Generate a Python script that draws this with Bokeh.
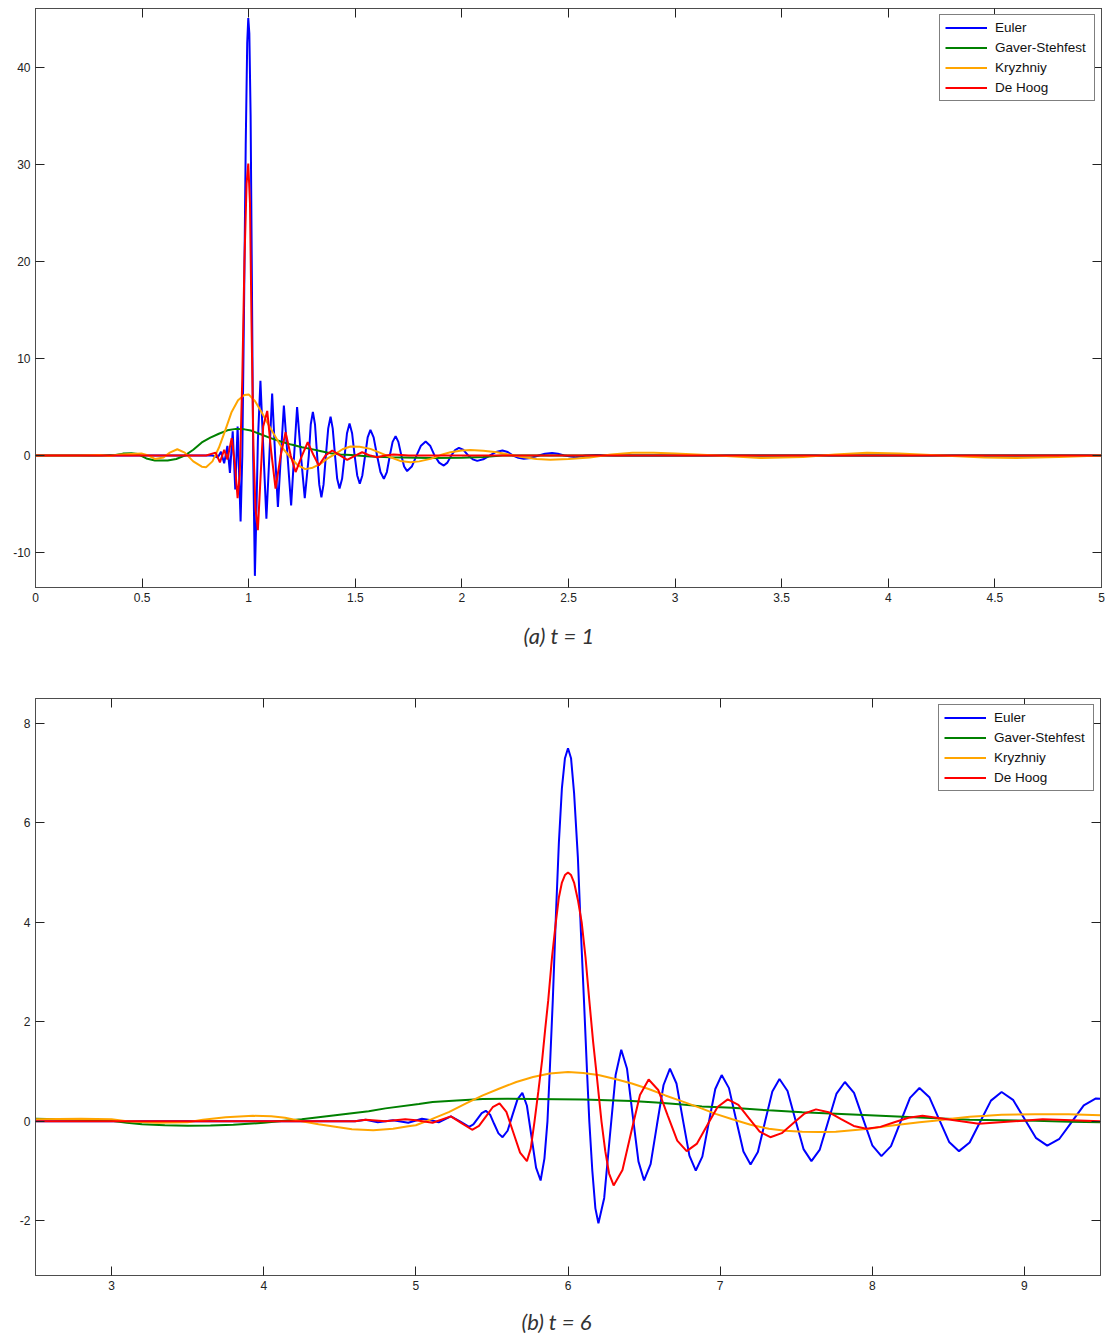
from bokeh.plotting import figure
from bokeh.models import Range1d, FixedTicker, LinearAxis, Title
from bokeh.layouts import column
from bokeh.embed import file_html
from bokeh.resources import INLINE

# ---------------- data: panel (a) t = 1 ----------------
a_xticks = [0, 0.5, 1, 1.5, 2, 2.5, 3, 3.5, 4, 4.5, 5]
a_xlabels = ["0", "0.5", "1", "1.5", "2", "2.5", "3", "3.5", "4", "4.5", "5"]
a_yticks = [-10, 0, 10, 20, 30, 40]
a_ylabels = ["-10", "0", "10", "20", "30", "40"]

a_euler = [(0.0, 0), (0.83, 0), (0.855, -0.2), (0.87, 0.4), (0.885, -0.8), (0.90, 1.0),
           (0.912, -1.8), (0.925, 2.5), (0.937, -3.5), (0.948, 3.0), (0.962, -6.8),
           (0.970, 0), (0.978, 15), (0.986, 32), (0.993, 42.5), (0.998, 45.1), (1.003, 43.5),
           (1.009, 35), (1.015, 18), (1.021, 0), (1.029, -12.4), (1.036, -6), (1.043, 1.5),
           (1.055, 7.7), (1.069, 0.5), (1.083, -6.5), (1.097, 0), (1.110, 6.4), (1.124, 0),
           (1.137, -5.3), (1.151, 0), (1.165, 5.15), (1.182, 0), (1.199, -5.15), (1.213, 0),
           (1.227, 5.0), (1.245, 0), (1.263, -4.4), (1.282, 0), (1.291, 3.2), (1.301, 4.5),
           (1.311, 3.2), (1.321, 0), (1.331, -3.0), (1.341, -4.3), (1.351, -3.0), (1.362, 0),
           (1.373, 2.8), (1.384, 4.0), (1.394, 2.8), (1.405, 0), (1.415, -2.4), (1.426, -3.4),
           (1.438, -2.4), (1.45, 0), (1.461, 2.3), (1.473, 3.3), (1.485, 2.3), (1.497, 0),
           (1.509, -2.05), (1.521, -2.9), (1.533, -2.05), (1.546, 0), (1.558, 1.87),
           (1.571, 2.65), (1.586, 1.87), (1.602, 0), (1.618, -1.7), (1.634, -2.4),
           (1.648, -1.7), (1.662, 0), (1.675, 1.41), (1.689, 2.0), (1.702, 1.41), (1.716, 0),
           (1.729, -1.13), (1.743, -1.6), (1.765, -1.13), (1.787, 0), (1.808, 1.02),
           (1.83, 1.45), (1.851, 1.02), (1.872, 0), (1.893, -0.73), (1.915, -1.03),
           (1.932, -0.73), (1.95, 0), (1.968, 0.57), (1.986, 0.8), (2.008, 0.57), (2.03, 0),
           (2.051, -0.39), (2.072, -0.55), (2.10, -0.39), (2.13, 0), (2.16, 0.37), (2.19, 0.52),
           (2.215, 0.37), (2.24, 0), (2.265, -0.24), (2.29, -0.34), (2.325, -0.24), (2.36, 0),
           (2.39, 0.19), (2.423, 0.27), (2.45, 0.19), (2.48, 0), (2.533, -0.17), (2.58, 0),
           (2.63, 0.07), (2.72, 0), (5.0, 0)]

a_gaver = [(0, 0), (0.30, 0), (0.375, 0.05), (0.41, 0.2), (0.45, 0.25), (0.48, 0.15), (0.52, -0.3),
           (0.56, -0.5), (0.62, -0.5), (0.66, -0.35), (0.70, 0), (0.74, 0.6), (0.78, 1.35),
           (0.82, 1.85), (0.86, 2.25), (0.90, 2.6), (0.94, 2.75), (0.98, 2.7), (1.01, 2.58),
           (1.05, 2.25), (1.10, 1.82), (1.15, 1.45), (1.20, 1.13), (1.25, 0.85), (1.29, 0.69),
           (1.34, 0.45), (1.384, 0.24), (1.43, 0.12), (1.48, 0.05), (1.57, -0.1), (1.665, -0.17),
           (1.85, -0.24), (2.0, -0.22), (2.1, -0.15), (2.19, 0), (5.0, 0)]

a_kryz = [(0, 0), (0.2, 0), (0.3, 0.05), (0.35, -0.05), (0.4, 0.1), (0.45, 0.15), (0.5, 0.2),
          (0.53, 0), (0.56, -0.35), (0.6, -0.2), (0.63, 0.3), (0.665, 0.65), (0.70, 0.3),
          (0.74, -0.6), (0.78, -1.15), (0.80, -1.2), (0.83, -0.6), (0.86, 0.8), (0.89, 2.6),
          (0.92, 4.5), (0.95, 5.7), (0.98, 6.25), (1.0, 6.3), (1.03, 5.6), (1.06, 4.5),
          (1.10, 2.9), (1.15, 1.0), (1.196, -0.2), (1.23, -1.0), (1.266, -1.4), (1.30, -1.25),
          (1.337, -0.85), (1.37, -0.3), (1.407, 0.17), (1.44, 0.65), (1.477, 0.93), (1.52, 0.9),
          (1.571, 0.69), (1.62, 0.25), (1.665, -0.17), (1.71, -0.55), (1.759, -0.69), (1.80, -0.6),
          (1.853, -0.34), (1.90, 0.05), (1.946, 0.34), (2.0, 0.52), (2.04, 0.58), (2.10, 0.5),
          (2.165, 0.34), (2.23, 0.05), (2.29, -0.17), (2.35, -0.35), (2.415, -0.44), (2.5, -0.35),
          (2.6, -0.2), (2.7, 0.1), (2.8, 0.3), (2.9, 0.3), (3.0, 0.2), (3.2, 0), (3.4, -0.25),
          (3.6, -0.15), (3.75, 0.1), (3.9, 0.3), (4.05, 0.2), (4.25, 0), (4.45, -0.2), (4.6, -0.25),
          (4.8, -0.15), (5.0, 0)]

a_hoog = [(0, 0), (0.80, 0), (0.845, 0.3), (0.865, -0.7), (0.885, 0.6), (0.90, -0.4), (0.92, 1.8),
          (0.935, -0.8), (0.948, -4.4), (0.958, -2.0), (0.97, 8), (0.98, 20), (0.99, 28),
          (0.998, 30.1), (1.006, 26), (1.013, 14), (1.022, 1), (1.032, -5.5), (1.043, -7.7),
          (1.055, -2.5), (1.068, 3.0), (1.087, 4.6), (1.105, 0.5), (1.126, -3.4), (1.15, 0),
          (1.173, 2.4), (1.197, 0), (1.22, -1.7), (1.25, 0), (1.277, 1.37), (1.305, 0),
          (1.329, -1.03), (1.36, 0), (1.392, 0.52), (1.43, 0), (1.462, -0.45), (1.50, 0),
          (1.532, 0.34), (1.57, 0), (1.602, -0.17), (1.64, 0), (1.68, 0.1), (1.75, 0), (5.0, 0)]

# ---------------- data: panel (b) t = 6 ----------------
b_xticks = [3, 4, 5, 6, 7, 8, 9]
b_xlabels = ["3", "4", "5", "6", "7", "8", "9"]
b_yticks = [-2, 0, 2, 4, 6, 8]
b_ylabels = ["-2", "0", "2", "4", "6", "8"]

b_euler = [(2.5, 0), (4.6, 0), (4.67, 0.03), (4.75, -0.02), (4.85, 0.02), (4.95, -0.03), (5.04, 0.05),
           (5.1, 0.02), (5.15, -0.02), (5.23, 0.1), (5.29, 0.0), (5.35, -0.11), (5.378, -0.063),
           (5.405, 0.05), (5.433, 0.163), (5.46, 0.21), (5.488, 0.133), (5.515, -0.055),
           (5.543, -0.243), (5.57, -0.32), (5.603, -0.19), (5.635, 0.125), (5.668, 0.44),
           (5.70, 0.57), (5.73, 0.313), (5.76, -0.31), (5.79, -0.933), (5.82, -1.19),
           (5.845, -0.75), (5.865, 0), (5.88, 1.0), (5.90, 2.43), (5.92, 4.1), (5.94, 5.6),
           (5.96, 6.7), (5.98, 7.3), (6.0, 7.5), (6.02, 7.3), (6.04, 6.6), (6.065, 5.3),
           (6.085, 3.8), (6.105, 2.43), (6.125, 1.0), (6.14, 0), (6.16, -1.0), (6.18, -1.75),
           (6.2, -2.05), (6.238, -1.54), (6.275, -0.305), (6.313, 0.93), (6.35, 1.44),
           (6.388, 1.056), (6.425, 0.125), (6.463, -0.806), (6.50, -1.19), (6.543, -0.861),
           (6.585, -0.065), (6.628, 0.73), (6.67, 1.06), (6.713, 0.76), (6.755, 0.035),
           (6.798, -0.69), (6.84, -0.99), (6.883, -0.71), (6.925, -0.03), (6.968, 0.65),
           (7.01, 0.93), (7.058, 0.667), (7.105, 0.03), (7.153, -0.607), (7.20, -0.87),
           (7.248, -0.619), (7.295, -0.01), (7.343, 0.599), (7.39, 0.85), (7.443, 0.609),
           (7.495, 0.025), (7.548, -0.559), (7.60, -0.80), (7.655, -0.568), (7.71, -0.005),
           (7.765, 0.558), (7.82, 0.79), (7.88, 0.572), (7.94, 0.045), (8.0, -0.482),
           (8.06, -0.70), (8.123, -0.5), (8.185, -0.015), (8.248, 0.47), (8.31, 0.67),
           (8.375, 0.485), (8.44, 0.035), (8.505, -0.415), (8.57, -0.60), (8.64, -0.426),
           (8.71, -0.005), (8.78, 0.416), (8.85, 0.59), (8.925, 0.432), (9.0, 0.05),
           (9.075, -0.332), (9.15, -0.49), (9.23, -0.351), (9.31, -0.015), (9.39, 0.321),
           (9.47, 0.46), (9.5, 0.455)]

b_gaver = [(2.5, 0.05), (2.8, 0.03), (3.0, 0.01), (3.1, -0.03), (3.2, -0.06), (3.35, -0.08),
           (3.5, -0.09), (3.65, -0.085), (3.8, -0.07), (3.9, -0.05), (4.0, -0.03), (4.1, 0.0),
           (4.25, 0.04), (4.47, 0.12), (4.69, 0.2), (4.8, 0.26), (5.02, 0.35), (5.11, 0.39),
           (5.27, 0.42), (5.44, 0.45), (5.6, 0.455), (5.77, 0.45), (5.93, 0.445), (6.10, 0.44),
           (6.26, 0.425), (6.42, 0.41), (6.58, 0.38), (6.75, 0.34), (6.88, 0.30), (7.08, 0.27),
           (7.32, 0.22), (7.54, 0.18), (7.76, 0.15), (7.98, 0.12), (8.2, 0.09), (8.42, 0.06),
           (8.64, 0.03), (8.85, 0.02), (9.07, 0.01), (9.3, -0.01), (9.5, -0.02)]

b_kryz = [(2.5, 0.04), (2.8, 0.05), (3.0, 0.04), (3.1, 0.0), (3.3, -0.03), (3.5, -0.02), (3.6, 0.03),
          (3.75, 0.08), (3.93, 0.11), (4.05, 0.1), (4.14, 0.07), (4.25, 0.0), (4.36, -0.06),
          (4.47, -0.11), (4.58, -0.16), (4.72, -0.18), (4.85, -0.15), (4.95, -0.1), (5.0, -0.08),
          (5.1, 0.04), (5.22, 0.19), (5.33, 0.36), (5.44, 0.52), (5.55, 0.66), (5.66, 0.79),
          (5.77, 0.89), (5.88, 0.96), (6.0, 0.99), (6.1, 0.97), (6.2, 0.93), (6.31, 0.85),
          (6.42, 0.76), (6.53, 0.65), (6.64, 0.52), (6.75, 0.40), (6.86, 0.28), (6.97, 0.15),
          (7.08, 0.04), (7.2, -0.07), (7.32, -0.15), (7.43, -0.19), (7.54, -0.21), (7.65, -0.215),
          (7.76, -0.21), (7.87, -0.18), (7.98, -0.15), (8.09, -0.1), (8.2, -0.06), (8.31, -0.02),
          (8.41, 0.01), (8.52, 0.05), (8.64, 0.09), (8.75, 0.11), (8.85, 0.13), (9.07, 0.14),
          (9.29, 0.14), (9.5, 0.12)]

b_hoog = [(2.5, 0), (4.6, 0), (4.67, 0.03), (4.8, 0.0), (4.93, 0.04), (5.0, 0.02), (5.11, -0.03),
          (5.23, 0.1), (5.30, -0.035), (5.37, -0.17), (5.415, -0.093), (5.46, 0.095),
          (5.505, 0.283), (5.55, 0.36), (5.595, 0.19), (5.64, -0.22), (5.685, -0.63), (5.73, -0.8),
          (5.755, -0.55), (5.78, 0), (5.805, 0.6), (5.83, 1.23), (5.85, 1.85), (5.87, 2.43),
          (5.895, 3.3), (5.92, 4.0), (5.94, 4.5), (5.96, 4.8), (5.98, 4.95), (6.0, 5.0),
          (6.02, 4.95), (6.04, 4.8), (6.065, 4.45), (6.09, 4.0), (6.115, 3.3), (6.14, 2.43),
          (6.165, 1.6), (6.19, 0.89), (6.22, 0), (6.245, -0.6), (6.27, -1.05), (6.30, -1.29),
          (6.358, -0.979), (6.415, -0.225), (6.473, 0.529), (6.53, 0.84), (6.593, 0.63),
          (6.655, 0.12), (6.718, -0.39), (6.78, -0.6), (6.848, -0.448), (6.915, -0.08),
          (6.983, 0.288), (7.05, 0.44), (7.12, 0.329), (7.19, 0.06), (7.26, -0.209), (7.33, -0.32),
          (7.405, -0.238), (7.48, -0.04), (7.555, 0.158), (7.63, 0.24), (7.713, 0.183),
          (7.795, 0.045), (7.878, -0.093), (7.96, -0.15), (8.053, -0.112), (8.145, -0.02),
          (8.238, 0.072), (8.33, 0.11), (8.515, 0.03), (8.70, -0.05), (8.91, -0.005), (9.12, 0.04),
          (9.5, 0.0)]

series_names = ["Euler", "Gaver-Stehfest", "Kryzhniy", "De Hoog"]
series_colors = ["#0000FF", "#008000", "#FFA500", "#FF0000"]

AX_COLOR = "#4d4d4d"
TICK_FONT = "Liberation Sans"


def setup_axis(ax, ticks, labels, show):
    ax.ticker = FixedTicker(ticks=ticks)
    ax.major_tick_in = 9
    ax.major_tick_out = 0
    ax.minor_tick_line_color = None
    ax.axis_line_color = AX_COLOR
    ax.major_tick_line_color = "#222222"
    if show:
        ax.major_label_overrides = {t: l for t, l in zip(ticks, labels)}
        ax.major_label_text_font = TICK_FONT
        ax.major_label_text_font_size = "12px"
        ax.major_label_text_color = "#222222"
        ax.major_label_standoff = 5
    else:
        ax.major_label_overrides = {t: "" for t in ticks}
        ax.major_label_text_font_size = "0px"
        ax.major_label_standoff = 0


def make_panel(xr, yr, fw, fh, bl, br, bt, bb, xt, xl, yt, yl, caption, data, cap_offset, cap_standoff):
    p = figure(x_range=Range1d(*xr), y_range=Range1d(*yr), frame_width=fw, frame_height=fh,
               min_border_left=bl, min_border_right=br, min_border_top=bt, min_border_bottom=bb,
               output_backend="svg", toolbar_location=None)
    p.xgrid.visible = False
    p.ygrid.visible = False
    p.outline_line_color = AX_COLOR
    p.outline_line_width = 1
    p.background_fill_color = "white"
    p.border_fill_color = "white"

    bottom = p.below[0]
    left = p.left[0]
    setup_axis(bottom, xt, xl, True)
    setup_axis(left, yt, yl, True)

    top = LinearAxis()
    setup_axis(top, xt, xl, False)
    p.add_layout(top, "above")
    right = LinearAxis()
    setup_axis(right, yt, yl, False)
    p.add_layout(right, "right")

    cap = Title(text=caption, align="left", offset=cap_offset, standoff=cap_standoff,
                text_font="Lato", text_font_style="italic", text_font_size="22px",
                text_color="#333333")
    p.add_layout(cap, "below")

    for pts, name, col in zip(data, series_names, series_colors):
        xs = [q[0] for q in pts]
        ys = [q[1] for q in pts]
        p.line(xs, ys, line_color=col, line_width=2, legend_label=name)

    lg = p.legend[0]
    lg.location = "top_right"
    lg.margin = 6
    lg.padding = 5
    lg.spacing = 5
    lg.label_height = 15
    lg.glyph_height = 15
    lg.glyph_width = 42
    lg.label_standoff = 8
    lg.label_width = 94
    lg.label_text_font = TICK_FONT
    lg.label_text_font_size = "13.5px"
    lg.label_text_color = "#111111"
    lg.border_line_color = "#000000"
    lg.border_line_width = 1
    lg.background_fill_color = "white"
    lg.background_fill_alpha = 1.0
    return p


p1 = make_panel((0, 5), (-13.6, 46.08), 1066, 579, 35, 7, 8, 73,
                a_xticks, a_xlabels, a_yticks, a_ylabels, "(a) t = 1",
                [a_euler, a_gaver, a_kryz, a_hoog], 488, 31)
p2 = make_panel((2.5, 9.5), (-3.1, 8.5), 1065, 577, 33, 10, 34, 60,
                b_xticks, b_xlabels, b_yticks, b_ylabels, "(b) t = 6",
                [b_euler, b_gaver, b_kryz, b_hoog], 486, 26)

layout = column(p1, p2, spacing=0)
open("out.html", "w").write(file_html(layout, INLINE))
